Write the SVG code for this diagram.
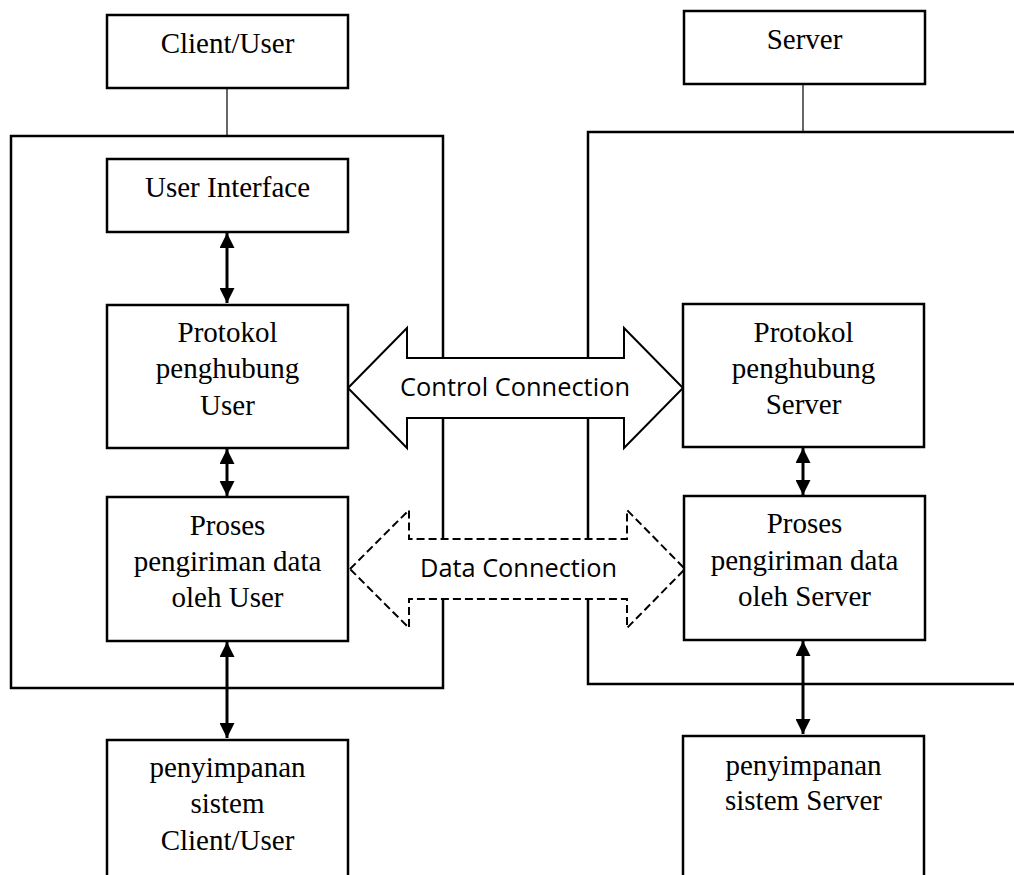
<svg xmlns="http://www.w3.org/2000/svg" width="1014" height="875" viewBox="0 0 1014 875">
  <style>
    .box { fill: #ffffff; stroke: #000000; stroke-width: 2.5; }
    .frame { fill: none; stroke: #000000; stroke-width: 2.5; }
    .thin { stroke: #000000; stroke-width: 1.2; fill: none; }
    .link { stroke: #000000; stroke-width: 3; fill: none; marker-start: url(#head); marker-end: url(#head); }
    .label { font-family: "Liberation Serif", "Times New Roman", serif; font-size: 29px; fill: #000000; text-anchor: middle; }
    .big { fill: #ffffff; stroke: #000000; stroke-width: 2; stroke-linejoin: miter; }
    .dashed { stroke-dasharray: 8 4; }
    .conn { font-family: "Open Sans", "DejaVu Sans", sans-serif; font-size: 26px; fill: #000000; text-anchor: middle; }
  </style>
  <defs>
    <marker id="head" viewBox="0 0 10 10" refX="10" refY="5" markerWidth="15" markerHeight="15" markerUnits="userSpaceOnUse" orient="auto-start-reverse">
      <path d="M0,0 L10,5 L0,10 z" fill="#000000"/>
    </marker>
  </defs>
  <rect width="1014" height="875" fill="#ffffff"/>

  <!-- client side container and title -->
  <g id="client-frame">
    <rect class="frame" x="11" y="136" width="432" height="552"/>
  </g>
  <g id="client-user">
    <rect class="box" x="107" y="15" width="241" height="73"/>
    <text class="label" x="227.5" y="53">Client/User</text>
  </g>

  <!-- server side container and title -->
  <g id="server-frame">
    <path class="frame" d="M1020,132 H588 V684 H1020"/>
  </g>
  <g id="server">
    <rect class="box" x="684" y="11" width="241" height="73"/>
    <text class="label" x="804.5" y="49">Server</text>
  </g>

  <!-- connectors -->
  <g id="connectors">
    <line class="thin" x1="227" y1="88" x2="227" y2="135"/>
    <line class="thin" x1="803" y1="84" x2="803" y2="131"/>
    <line class="link" x1="227" y1="233" x2="227" y2="303"/>
    <line class="link" x1="227" y1="449" x2="227" y2="496"/>
    <line class="link" x1="227" y1="642" x2="227" y2="738"/>
    <line class="link" x1="803" y1="448" x2="803" y2="495"/>
    <line class="link" x1="803" y1="641" x2="803" y2="734"/>

    <g id="control-connection">
      <polygon class="big" points="348,388 407,328 407,358 624,358 624,328 683,388 624,448 624,418 407,418 407,448"/>
      <text class="conn" x="515" y="396" textLength="230" lengthAdjust="spacingAndGlyphs">Control Connection</text>
    </g>
    <g id="data-connection">
      <polygon class="big dashed" points="350,569 409,510 409,539 627,539 627,510 685,569 627,628 627,599 409,599 409,628"/>
      <text class="conn" x="518.5" y="577" textLength="197" lengthAdjust="spacingAndGlyphs">Data Connection</text>
    </g>
  </g>

  <!-- client components -->
  <g id="user-interface">
    <rect class="box" x="107" y="159" width="241" height="73"/>
    <text class="label" x="227.5" y="197">User Interface</text>
  </g>
  <g id="protokol-user">
    <rect class="box" x="107" y="305" width="241" height="143"/>
    <text class="label" x="227.5" y="342">Protokol</text>
    <text class="label" x="227.5" y="378">penghubung</text>
    <text class="label" x="227.5" y="415">User</text>
  </g>
  <g id="proses-user">
    <rect class="box" x="107" y="497" width="241" height="144"/>
    <text class="label" x="227.5" y="535">Proses</text>
    <text class="label" x="227.5" y="571">pengiriman data</text>
    <text class="label" x="227.5" y="607">oleh User</text>
  </g>
  <g id="storage-user">
    <rect class="box" x="107" y="740" width="241" height="150"/>
    <text class="label" x="227.5" y="777">penyimpanan</text>
    <text class="label" x="227.5" y="813">sistem</text>
    <text class="label" x="227.5" y="850">Client/User</text>
  </g>

  <!-- server components -->
  <g id="protokol-server">
    <rect class="box" x="683" y="304" width="241" height="143"/>
    <text class="label" x="803.5" y="342">Protokol</text>
    <text class="label" x="803.5" y="378">penghubung</text>
    <text class="label" x="803.5" y="414">Server</text>
  </g>
  <g id="proses-server">
    <rect class="box" x="684" y="496" width="241" height="144"/>
    <text class="label" x="804.5" y="533">Proses</text>
    <text class="label" x="804.5" y="570">pengiriman data</text>
    <text class="label" x="804.5" y="606">oleh Server</text>
  </g>
  <g id="storage-server">
    <rect class="box" x="683" y="736" width="241" height="150"/>
    <text class="label" x="803.5" y="775">penyimpanan</text>
    <text class="label" x="803.5" y="810">sistem Server</text>
  </g>
</svg>
